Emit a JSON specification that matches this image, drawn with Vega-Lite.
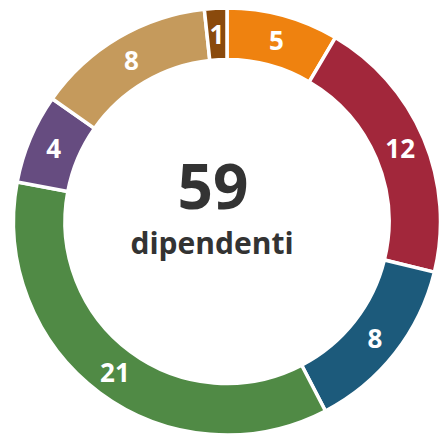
{
  "$schema": "https://vega.github.io/schema/vega-lite/v6.json",
  "autosize": "none",
  "padding": 0,
  "width": 454,
  "height": 443,
  "background": "white",
  "view": {"stroke": null},
  "data": {"values": [
    {"order": 1, "cat": "a", "value": 5},
    {"order": 2, "cat": "b", "value": 12},
    {"order": 3, "cat": "c", "value": 8},
    {"order": 4, "cat": "d", "value": 21},
    {"order": 5, "cat": "e", "value": 4},
    {"order": 6, "cat": "f", "value": 8},
    {"order": 7, "cat": "g", "value": 1}
  ]},
  "layer": [
    {
      "mark": {"type": "arc", "outerRadius": 213.5, "innerRadius": 162, "stroke": "white", "strokeWidth": 3.5},
      "encoding": {
        "theta": {"field": "value", "type": "quantitative", "stack": true},
        "order": {"field": "order", "type": "quantitative"},
        "color": {"field": "cat", "type": "nominal", "legend": null,
          "scale": {"domain": ["a","b","c","d","e","f","g"],
                    "range": ["#EF820F", "#A2273B", "#1C5A7B", "#508A45", "#664C80", "#C59A5C", "#8A4A0C"]}}
      }
    },
    {
      "mark": {"type": "text", "radius": 188, "color": "white", "font": "Open Sans", "fontWeight": "bold", "fontSize": 26, "baseline": "middle", "align": "center", "dy": 2},
      "encoding": {
        "theta": {"field": "value", "type": "quantitative", "stack": true},
        "order": {"field": "order", "type": "quantitative"},
        "text": {"field": "value", "type": "quantitative"}
      }
    },
    {
      "data": {"values": [{"t": "59", "kind": "big"}]},
      "mark": {"type": "text", "font": "Open Sans", "fontWeight": "bold", "fontSize": 62, "color": "#333333", "baseline": "middle", "align": "center", "dy": -32, "dx": -14},
      "encoding": {"text": {"field": "t"}}
    },
    {
      "data": {"values": [{"t": "dipendenti"}]},
      "mark": {"type": "text", "font": "Open Sans", "fontWeight": "bold", "fontSize": 30, "color": "#333333", "baseline": "middle", "align": "center", "dy": 23, "dx": -15},
      "encoding": {"text": {"field": "t"}}
    }
  ]
}
